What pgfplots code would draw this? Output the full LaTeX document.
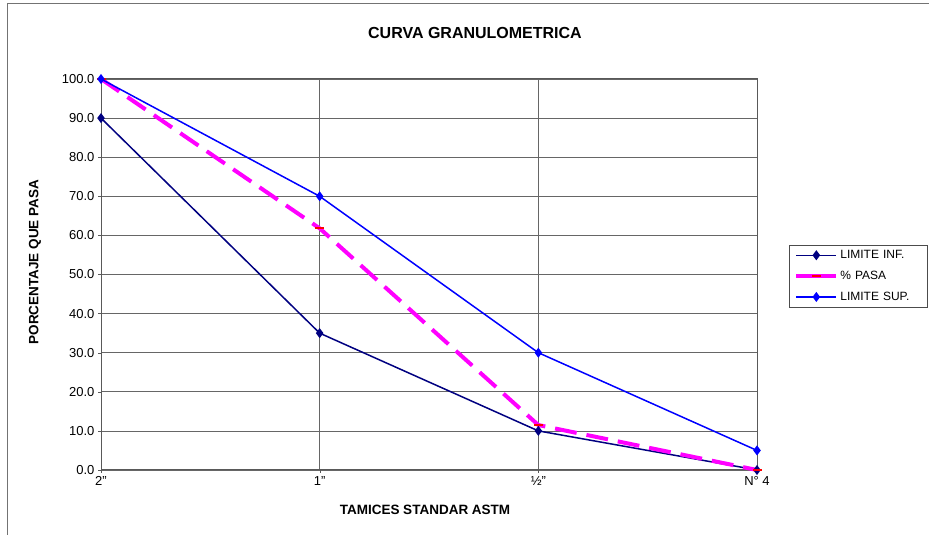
\documentclass[border=0pt]{standalone}
\usepackage{pgfplots}
\pgfplotsset{compat=1.18}
\usepackage{fontspec}
\setmainfont{Liberation Sans}
\definecolor{navy}{HTML}{000080}
\definecolor{mblue}{HTML}{0000FF}
\definecolor{mag}{HTML}{FF00FF}
\begin{document}
\begin{tikzpicture}[x=1pt,y=1pt]
\useasboundingbox (0,0) rectangle (929,535);
\draw[black!55, line width=0.8pt] (7,-5) -- (7,532) -- (935,532);
\begin{axis}[
  at={(101pt,65pt)}, anchor=south west,
  width=656pt, height=391pt, scale only axis,
  xmin=0, xmax=3, ymin=0, ymax=100,
  xtick={0,1,2,3}, xticklabels={2",1",½",N° 4},
  ytick={0,10,...,100},
  xtick pos=left, ytick pos=left,
  yticklabel style={/pgf/number format/.cd, fixed, fixed zerofill, precision=1},
  /pgf/number format/assume math mode=true,
  ticklabel style={font=\fontsize{13}{15}\selectfont},
  grid=major, major grid style={black!60, line width=0.7pt},
  axis line style={black!65, line width=1pt},
  tick style={black!65}, tick align=outside, major tick length=3pt,
  legend style={at={(1.049,0.575)}, anchor=north west, draw=black!70,
    font=\fontsize{12}{14}\selectfont, row sep=7pt, inner xsep=5pt, inner ysep=3pt,
    text width=80pt},
  legend cell align=left,
  legend image code/.code={\draw[mark repeat=2,mark phase=2,#1] plot coordinates {(0pt,0pt)(20pt,0pt)(40pt,0pt)};},
  clip=false,
]
\addplot[navy, line width=1.5pt, mark=diamond*, mark size=3.8pt, mark options={fill=navy}]
  coordinates {(0,90) (1,35) (2,10) (3,0)};
\addlegendentry{LIMITE INF.}
\addplot[forget plot, mag, line width=4pt, dash pattern=on 22pt off 10pt, mark=-, mark size=4.5pt, mark options={red, solid, line width=2.2pt}]
  coordinates {(0,100) (1,61.8) (2,11.5) (3,0)};
\addlegendimage{mag, line width=4pt, solid, mark=-, mark size=4.5pt, mark options={red, solid, line width=2.2pt}}
\addlegendentry{\% PASA}
\addplot[mblue, line width=1.5pt, mark=diamond*, mark size=3.8pt, mark options={fill=mblue}]
  coordinates {(0,100) (1,70) (2,30) (3,5)};
\addlegendentry{LIMITE SUP.}
\end{axis}
\node[font=\bfseries\fontsize{16}{18}\selectfont] at (475,502) {CURVA GRANULOMETRICA};
\node[font=\bfseries\fontsize{13.5}{15}\selectfont] at (425,25) {TAMICES STANDAR ASTM};
\node[font=\bfseries\fontsize{13.5}{15}\selectfont, rotate=90] at (35,273) {PORCENTAJE QUE PASA};
\end{tikzpicture}
\end{document}
